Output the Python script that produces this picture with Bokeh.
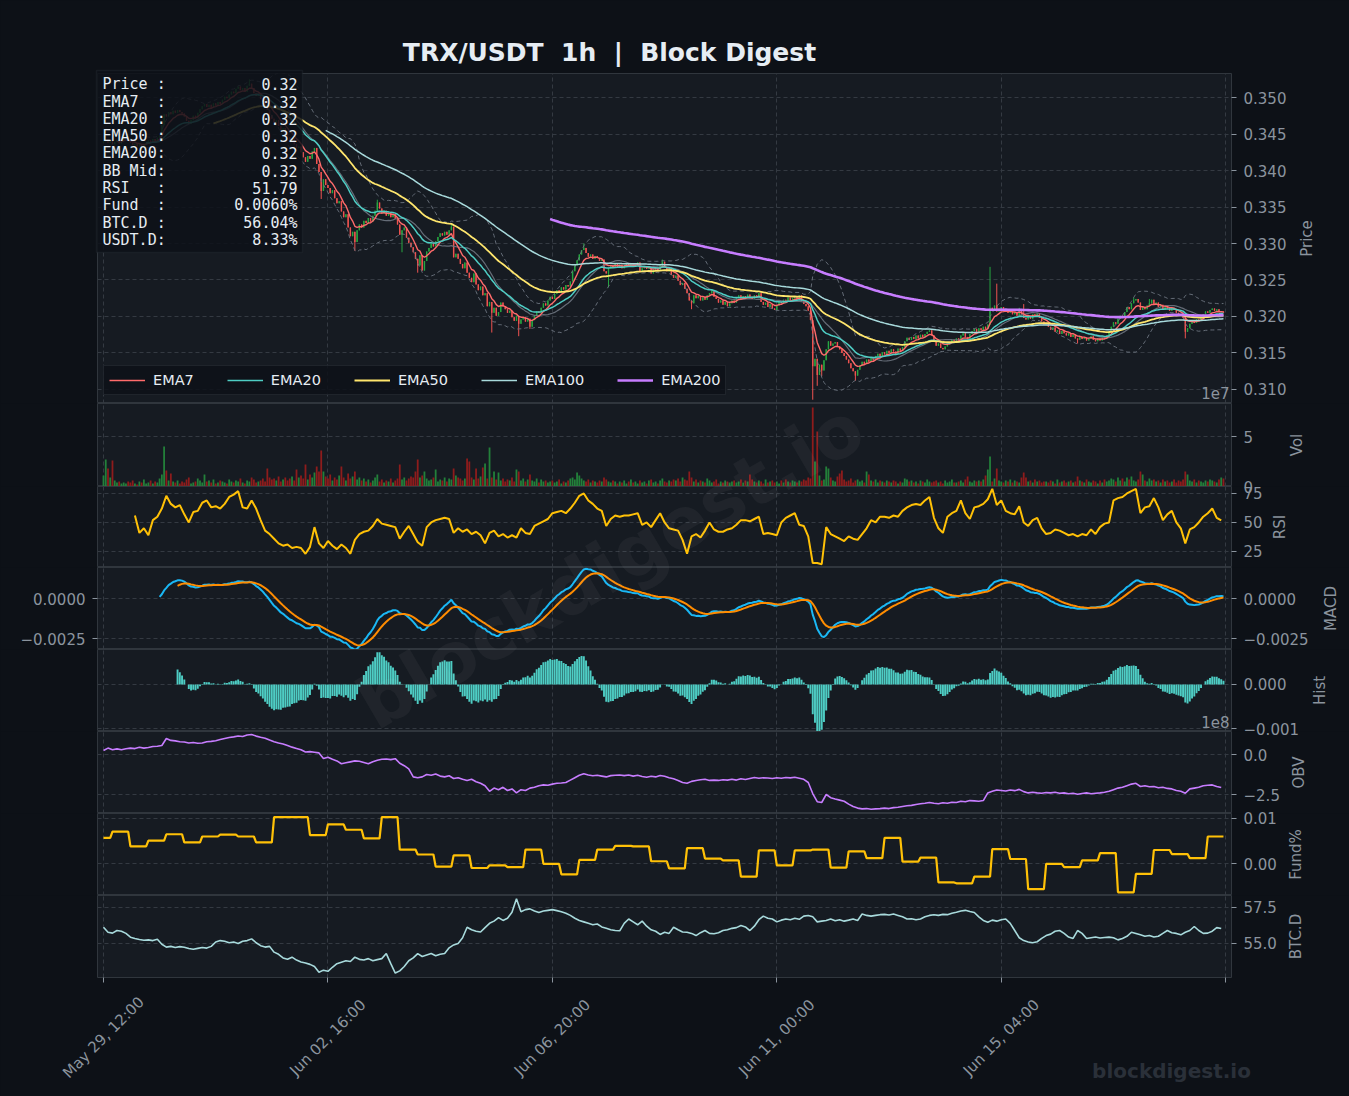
import numpy as np
import pandas as pd
from bokeh.plotting import figure
from bokeh.layouts import column
from bokeh.models import (Range1d, FixedTicker, Label, BoxAnnotation, Legend, LegendItem,
                          LinearAxis, CustomJSTickFormatter, Grid)
from bokeh.core.properties import value
from bokeh.embed import file_html
from bokeh.resources import INLINE

# ---------------------------------------------------------------- data
start_time = "2025-05-29 12:00"
xtick_hours = [0, 100, 200, 300, 400, 500]
xtick_labels = ["May 29, 12:00", "Jun 02, 16:00", "Jun 06, 20:00", "Jun 11, 00:00", "Jun 15, 04:00", ""]

open_first_e4 = 3438
# hourly closes, units of 0.0001 USDT
close_e4 = [
    3440, 3443, 3438, 3441, 3436, 3439, 3442, 3437, 3440, 3444,
    3446, 3441, 3438, 3435, 3437, 3433, 3436, 3432, 3435, 3438,
    3441, 3439, 3443, 3440, 3445, 3448, 3462, 3477, 3474, 3480,
    3477, 3482, 3479, 3483, 3480, 3478, 3474, 3468, 3464, 3469,
    3475, 3472, 3479, 3484, 3488, 3491, 3487, 3490, 3486, 3492,
    3489, 3494, 3491, 3497, 3501, 3499, 3504, 3508, 3506, 3512,
    3515, 3510, 3513, 3508, 3516, 3519, 3513, 3506, 3502, 3504,
    3498, 3494, 3487, 3483, 3476, 3471, 3466, 3469, 3461, 3455,
    3458, 3450, 3446, 3441, 3444, 3436, 3431, 3433, 3425, 3418,
    3412, 3420, 3416, 3426, 3431, 3409, 3398, 3372, 3388, 3380,
    3376, 3369, 3373, 3362, 3355, 3358, 3344, 3336, 3340, 3322,
    3310, 3316, 3302, 3318, 3326, 3322, 3331, 3328, 3335, 3330,
    3338, 3345, 3356, 3348, 3341, 3345, 3338, 3342, 3336, 3340,
    3334, 3326, 3312, 3318, 3322, 3308, 3301, 3295, 3288, 3279,
    3270, 3284, 3263, 3276, 3289, 3294, 3300, 3296, 3303, 3309,
    3314, 3311, 3316, 3312, 3318, 3323, 3281, 3286, 3279, 3272,
    3266, 3274, 3260, 3253, 3247, 3259, 3244, 3236, 3241, 3229,
    3232, 3214, 3220, 3205, 3212, 3201, 3206, 3219, 3214, 3210,
    3205, 3208, 3199, 3194, 3201, 3190, 3196, 3199, 3193, 3197,
    3186, 3195, 3201, 3207, 3205, 3212, 3218, 3215, 3222, 3227,
    3224, 3231, 3236, 3233, 3240, 3237, 3243, 3241, 3248, 3262,
    3270, 3277, 3285, 3291, 3294, 3287, 3282, 3285, 3279, 3283,
    3280, 3276, 3278, 3262, 3259, 3266, 3270, 3267, 3272, 3268,
    3271, 3266, 3270, 3273, 3269, 3272, 3268, 3271, 3274, 3262,
    3266, 3269, 3265, 3268, 3259, 3264, 3267, 3263, 3270, 3275,
    3268, 3262, 3265, 3257, 3253, 3256, 3249, 3243, 3246, 3238,
    3232, 3222, 3218, 3229, 3225, 3228, 3222, 3226, 3223, 3229,
    3232, 3236, 3227, 3224, 3219, 3222, 3216, 3220, 3214, 3218,
    3222, 3219, 3226, 3229, 3224, 3228, 3225, 3230, 3227, 3224,
    3229, 3226, 3232, 3220, 3216, 3219, 3213, 3217, 3211, 3209,
    3215, 3220, 3218, 3223, 3221, 3226, 3222, 3225, 3228, 3224,
    3229, 3221, 3217, 3214, 3208, 3195, 3132, 3142, 3120, 3134,
    3126, 3140, 3155, 3166, 3160, 3163, 3165, 3159, 3155, 3150,
    3146, 3141, 3136, 3129, 3125, 3119, 3127, 3133, 3138, 3135,
    3141, 3138, 3144, 3140, 3146, 3149, 3145, 3151, 3148, 3153,
    3150, 3155, 3152, 3149, 3156, 3153, 3158, 3166, 3171, 3168,
    3172, 3169, 3174, 3170, 3175, 3172, 3176, 3179, 3181, 3174,
    3166, 3160, 3163, 3157, 3155, 3159, 3162, 3165, 3168, 3166,
    3170, 3167, 3174, 3177, 3172, 3168, 3176, 3180, 3183, 3179,
    3184, 3181, 3186, 3183, 3189, 3212, 3208, 3215, 3207, 3211,
    3213, 3208, 3210, 3205, 3209, 3203, 3206, 3201, 3209, 3203,
    3198, 3196, 3201, 3197, 3203, 3200, 3204, 3198, 3193, 3189,
    3191, 3186, 3182, 3185, 3179, 3181, 3176, 3180, 3177, 3174,
    3177, 3172, 3175, 3170, 3168, 3172, 3169, 3171, 3167, 3170,
    3173, 3168, 3166, 3170, 3167, 3171, 3169, 3174, 3180, 3186,
    3192, 3190, 3197, 3201, 3199, 3206, 3213, 3210, 3218, 3222,
    3224, 3219, 3209, 3213, 3210, 3215, 3218, 3223, 3216, 3219,
    3213, 3216, 3209, 3214, 3211, 3208, 3212, 3209, 3205, 3203,
    3201, 3198, 3179, 3184, 3190, 3193, 3191, 3196, 3194, 3199,
    3203, 3207, 3205, 3209, 3211, 3208, 3210, 3206, 3207, 3205,
]
# notable wick extremes (hour -> price e4)
wick_high_e4 = {65: 3525, 122: 3360, 155: 3327, 214: 3300, 249: 3278, 395: 3268,
                398: 3245, 408: 3212, 410: 3217, 459: 3226, 466: 3224}
wick_low_e4 = {97: 3361, 112: 3290, 133: 3288, 140: 3260, 173: 3178, 185: 3173,
               190: 3183, 225: 3240, 262: 3210, 316: 3086, 318: 3105, 320: 3118,
               335: 3112, 434: 3163, 482: 3170}

# hourly volume, millions
volume_m = [
    11, 27, 18, 9, 26, 6, 4, 5, 3, 4,
    3, 5, 4, 6, 3, 2, 5, 4, 7, 3,
    4, 6, 3, 5, 4, 8, 12, 40, 16, 6,
    13, 5, 4, 6, 3, 5, 4, 7, 9, 3,
    4, 5, 8, 6, 4, 12, 5, 6, 4, 7,
    3, 4, 6, 5, 4, 3, 7, 5, 4, 6,
    5, 8, 4, 3, 6, 5, 9, 7, 4, 5,
    6, 8, 5, 18, 9, 7, 8, 6, 10, 5,
    7, 9, 6, 8, 10, 6, 17, 9, 11, 8,
    22, 7, 12, 9, 14, 20, 15, 36, 15, 10,
    8, 12, 6, 9, 7, 11, 20, 9, 6, 13,
    8, 10, 15, 7, 9, 6, 8, 5, 7, 4,
    6, 9, 12, 5, 7, 4, 6, 5, 8, 4,
    6, 8, 22, 7, 9, 6, 8, 10, 9, 15,
    27, 9, 11, 15, 8, 6, 7, 9, 17, 5,
    7, 6, 9, 5, 8, 7, 18, 11, 9, 8,
    6, 8, 28, 25, 9, 7, 18, 8, 10, 19,
    23, 8, 39, 9, 15, 7, 14, 6, 8, 5,
    7, 6, 9, 5, 17, 15, 6, 8, 5, 7,
    12, 6, 5, 8, 4, 7, 5, 6, 4, 5,
    6, 4, 5, 7, 3, 5, 4, 6, 8, 9,
    7, 14, 11, 8, 6, 5, 7, 4, 6, 5,
    4, 6, 5, 9, 7, 5, 4, 6, 5, 3,
    5, 4, 6, 3, 5, 7, 4, 5, 3, 6,
    4, 5, 3, 6, 7, 4, 5, 3, 6, 8,
    5, 4, 6, 5, 7, 6, 8, 5, 9, 7,
    6, 15, 9, 5, 7, 4, 6, 5, 4, 8,
    6, 4, 5, 7, 3, 5, 4, 6, 5, 4,
    5, 6, 4, 5, 7, 4, 6, 5, 12, 7,
    5, 4, 6, 5, 3, 7, 4, 5, 6, 4,
    5, 3, 6, 4, 7, 5, 4, 6, 5, 4,
    6, 5, 7, 6, 9, 8, 79, 25, 55, 11,
    6, 7, 20, 18, 9, 6, 5, 10, 13, 16,
    7, 5, 6, 8, 4, 6, 7, 5, 6, 4,
    15, 12, 6, 5, 7, 4, 6, 5, 4, 6,
    5, 4, 6, 5, 3, 5, 4, 8, 7, 5,
    6, 4, 5, 3, 6, 5, 4, 7, 5, 4,
    5, 6, 4, 5, 3, 6, 4, 5, 7, 4,
    4, 5, 6, 4, 7, 10, 5, 4, 6, 5,
    6, 5, 7, 11, 17, 30, 5, 8, 18, 6,
    5, 4, 6, 5, 7, 4, 6, 5, 4, 9,
    14, 9, 5, 6, 4, 7, 5, 6, 4, 5,
    5, 4, 6, 5, 3, 7, 4, 5, 6, 4,
    5, 6, 4, 5, 10, 6, 5, 4, 7, 5,
    4, 6, 5, 3, 6, 4, 7, 5, 6, 8,
    7, 5, 9, 6, 8, 5, 9, 7, 10, 6,
    5, 7, 15, 12, 6, 5, 8, 6, 7, 5,
    6, 4, 7, 5, 6, 4, 5, 7, 4, 6,
    5, 7, 15, 12, 6, 5, 7, 4, 6, 5,
    4, 6, 5, 7, 6, 5, 4, 7, 9, 8,
]

# RSI every 2 hours from hour 14
rsi_vals = [
    56, 41, 45, 39, 52, 55, 62, 73, 66, 63,
    65, 57, 50, 59, 60, 67, 69, 63, 64, 62,
    66, 72, 74, 77, 63, 62, 69, 62, 52, 43,
    40, 36, 32, 30, 31, 28, 29, 28, 23, 29,
    46, 32, 28, 34, 30, 27, 31, 28, 23, 35,
    40, 42, 43, 47, 53, 49, 48, 47, 46, 36,
    42, 47, 40, 33, 30, 46, 50, 52, 53, 54,
    53, 41, 45, 42, 44, 40, 42, 39, 32, 41,
    43, 38, 40, 37, 39, 37, 45, 41, 40, 47,
    49, 51, 53, 58, 59, 60, 58, 62, 67, 73,
    75, 69, 66, 62, 60, 47, 53, 56, 55, 56,
    56, 57, 58, 48, 50, 46, 52, 58, 50, 45,
    44, 43, 35, 23, 38, 40, 37, 43, 50, 44,
    42, 42, 44, 45, 48, 52, 52, 51, 53, 55,
    40, 41, 40, 39, 50, 54, 56, 58, 48, 47,
    38, 15, 15, 14, 46, 40, 38, 36, 34, 38,
    36, 35, 40, 45, 52, 50, 55, 55, 54, 56,
    55, 60, 63, 65, 66, 65, 69, 72, 54, 45,
    41, 55, 58, 60, 69, 58, 53, 63, 64, 66,
    70, 79, 65, 69, 60, 58, 57, 64, 50, 47,
    52, 54, 45, 40, 41, 44, 43, 41, 39, 40,
    38, 40, 39, 44, 40, 46, 49, 50, 69, 71,
    72, 75, 77, 79, 58, 63, 64, 71, 63, 52,
    57, 60, 50, 45, 32, 44, 46, 50, 55, 58,
    62, 54, 51.79,
]

# OBV every 2 hours, units of 1e8
obv_e8 = [
    0.25, 0.40, 0.30, 0.35, 0.30, 0.36, 0.40, 0.37, 0.45, 0.40,
    0.44, 0.50, 0.52, 0.56, 1.00, 0.88, 0.85, 0.80, 0.78, 0.72,
    0.75, 0.70, 0.72, 0.80, 0.82, 0.86, 0.94, 1.00, 1.06, 1.10,
    1.16, 1.12, 1.22, 1.25, 1.15, 1.08, 1.02, 0.90, 0.80, 0.72,
    0.66, 0.56, 0.46, 0.38, 0.30, 0.16, 0.18, 0.14, 0.10, -0.25,
    -0.17, -0.30, -0.40, -0.58, -0.52, -0.46, -0.40, -0.42, -0.50, -0.58,
    -0.45, -0.36, -0.30, -0.28, -0.32, -0.26, -0.55, -0.70, -0.90, -1.40,
    -1.45, -1.40, -1.25, -1.30, -1.22, -1.35, -1.40, -1.33, -1.50, -1.45,
    -1.55, -1.62, -1.55, -1.70, -1.80, -1.95, -2.30, -2.10, -2.20, -2.05,
    -2.25, -2.15, -2.40, -2.20, -2.25, -2.10, -2.05, -1.95, -1.90, -1.92,
    -1.85, -1.80, -1.78, -1.75, -1.60, -1.45, -1.30, -1.20, -1.28, -1.33,
    -1.30, -1.35, -1.40, -1.32, -1.30, -1.28, -1.32, -1.28, -1.35, -1.30,
    -1.38, -1.42, -1.36, -1.40, -1.31, -1.36, -1.45, -1.52, -1.62, -1.75,
    -1.80, -1.68, -1.62, -1.58, -1.55, -1.62, -1.60, -1.62, -1.58, -1.60,
    -1.55, -1.60, -1.52, -1.56, -1.50, -1.44, -1.48, -1.45, -1.47, -1.50,
    -1.45, -1.48, -1.44, -1.46, -1.42, -1.48, -1.55, -1.75, -2.44, -2.95,
    -3.00, -2.50, -2.70, -2.78, -2.85, -2.92, -3.10, -3.25, -3.35, -3.40,
    -3.38, -3.42, -3.40, -3.38, -3.35, -3.38, -3.32, -3.30, -3.25, -3.20,
    -3.18, -3.12, -3.08, -3.05, -3.00, -3.05, -3.08, -3.02, -3.05, -2.98,
    -3.00, -2.92, -2.95, -2.88, -2.90, -2.92, -2.88, -2.40, -2.30, -2.22,
    -2.25, -2.28, -2.22, -2.26, -2.18, -2.32, -2.40, -2.36, -2.40, -2.42,
    -2.38, -2.40, -2.36, -2.42, -2.40, -2.45, -2.42, -2.48, -2.44, -2.40,
    -2.45, -2.42, -2.40, -2.36, -2.30, -2.20, -2.10, -2.05, -1.95, -1.85,
    -1.80, -2.00, -1.95, -2.02, -2.00, -2.08, -2.05, -2.12, -2.15, -2.25,
    -2.30, -2.42, -2.15, -2.10, -2.05, -1.95, -1.92, -1.90, -2.00, -2.06,
]

# BTC dominance every 2 hours, %
btcd_vals = [
    56.13, 55.78, 55.72, 55.90, 55.85, 55.70, 55.44, 55.35, 55.28, 55.22,
    55.25, 55.20, 55.30, 54.95, 54.75, 54.80, 54.72, 54.78, 54.74, 54.65,
    54.60, 54.66, 54.72, 54.68, 54.80, 55.10, 55.20, 55.15, 55.05, 55.10,
    55.00, 55.15, 55.20, 55.32, 55.05, 54.85, 54.75, 54.80, 54.40, 54.25,
    54.00, 53.90, 54.05, 53.85, 53.72, 53.65, 53.55, 53.40, 53.00, 53.15,
    53.07, 53.35, 53.60, 53.70, 53.80, 53.75, 54.05, 53.90, 53.85, 53.95,
    53.80, 53.88, 53.95, 54.30, 53.60, 52.95, 53.10, 53.40, 53.80, 54.00,
    54.30, 54.10, 54.20, 54.30, 54.15, 54.25, 54.30, 54.70, 54.90, 55.00,
    55.40, 56.13, 55.95, 55.85, 55.80, 56.10, 56.40, 56.55, 56.80, 56.60,
    56.75, 57.17, 58.10, 57.20, 57.35, 57.40, 57.25, 57.15, 57.25, 57.30,
    57.35, 57.28, 57.20, 57.10, 56.95, 56.75, 56.60, 56.50, 56.40, 56.30,
    56.35, 56.15, 56.05, 55.95, 55.90, 55.88, 56.40, 56.70, 56.50, 56.30,
    56.55, 56.20, 55.95, 55.85, 55.63, 55.78, 55.70, 56.13, 55.95, 55.80,
    55.78, 55.70, 55.55, 55.75, 55.90, 55.70, 55.68, 55.75, 55.90, 55.95,
    56.05, 56.10, 56.25, 56.15, 55.90, 56.20, 56.65, 56.90, 56.75, 56.70,
    56.50, 56.62, 56.70, 56.65, 56.75, 56.68, 56.90, 56.94, 56.85, 56.50,
    56.55, 56.60, 56.70, 56.58, 56.65, 56.55, 56.62, 56.70, 56.60, 57.05,
    56.95, 56.90, 56.95, 57.00, 57.02, 56.98, 57.05, 56.95, 56.85, 56.70,
    56.72, 56.65, 56.70, 56.85, 56.95, 57.00, 56.95, 57.02, 57.00, 57.10,
    57.17, 57.25, 57.30, 57.22, 57.15, 56.85, 56.60, 56.48, 56.62, 56.55,
    56.65, 56.70, 56.40, 55.90, 55.40, 55.20, 55.10, 55.05, 55.12, 55.35,
    55.55, 55.65, 55.85, 55.90, 55.70, 55.45, 55.35, 55.90, 55.70, 55.35,
    55.40, 55.45, 55.38, 55.42, 55.44, 55.40, 55.25, 55.35, 55.50, 55.78,
    55.70, 55.60, 55.50, 55.55, 55.45, 55.50, 55.70, 55.90, 55.75, 55.70,
    55.60, 55.78, 55.90, 56.18, 55.90, 55.70, 55.72, 55.85, 56.10, 56.04,
]

# funding rate (%) per 8h period; first period covers hours 0-3, then every 8h from hour 4
funding_pct = [
    0.0057, 0.0071, 0.0038, 0.0051, 0.0065, 0.0047, 0.0060, 0.0064, 0.0060, 0.0047,
    0.0103, 0.0103, 0.0063, 0.0087, 0.0075, 0.0056, 0.0103, 0.0031, 0.0020, -0.0007,
    0.0018, -0.0010, -0.0004, -0.0008, 0.0031, -0.0001, -0.0024, 0.0008, 0.0031, 0.0039,
    0.0038, 0.0005, -0.0011, 0.0034, 0.0011, 0.0007, -0.0029, 0.0029, -0.0004, 0.0029,
    0.0031, -0.0009, 0.0027, 0.0012, 0.0057, 0.0004, 0.0013, -0.0042, -0.0044, -0.0029,
    0.0032, 0.0010, -0.0057, -0.0001, -0.0008, 0.0007, 0.0023, -0.0064, -0.0023, 0.0030,
    0.0021, 0.0012, 0.0060,
]
usdt_dominance = 8.33

assert len(close_e4) == 500 and len(volume_m) == 500
assert len(rsi_vals) == 243 and len(obv_e8) == 250 and len(btcd_vals) == 250
assert len(funding_pct) == 63

# ---------------------------------------------------------------- derived
HOUR = 3_600_000.0
t0_ms = pd.Timestamp(start_time).value / 1e6
hours = np.arange(500)
x = t0_ms + hours * HOUR
x2 = t0_ms + np.arange(0, 500, 2) * HOUR
x_rsi = t0_ms + np.arange(14, 499, 2) * HOUR

close = pd.Series(np.array(close_e4, dtype=float) / 1e4)
open_ = np.r_[open_first_e4 / 1e4, close.values[:-1]]
high = np.maximum(open_, close.values)
low = np.minimum(open_, close.values)
for h, v in wick_high_e4.items():
    high[h] = max(high[h], v / 1e4)
for h, v in wick_low_e4.items():
    low[h] = min(low[h], v / 1e4)
up = close.values >= open_

ema = {n: close.ewm(span=n, adjust=False, min_periods=n).mean().values for n in (7, 20, 50, 100, 200)}
bb_mid = close.rolling(20).mean()
bb_std = close.rolling(20).std()
bb_up = (bb_mid + 2 * bb_std).values
bb_lo = (bb_mid - 2 * bb_std).values
ema12 = close.ewm(span=12, adjust=False, min_periods=12).mean()
ema26 = close.ewm(span=26, adjust=False, min_periods=26).mean()
macd = ema12 - ema26
signal = macd.ewm(span=9, adjust=False, min_periods=9).mean()
hist = (macd - signal).values
vol = np.array(volume_m, dtype=float) / 10.0          # units of 1e7
fund_hourly = np.array([funding_pct[0] if h < 4 else funding_pct[1 + (h - 4) // 8] for h in hours])

# ---------------------------------------------------------------- style / geometry
BG = "#0d1117"
PANEL = "#161b22"
SPINE = "#30363d"
GRID = "#343a42"
TXT = "#8b949e"
WHITE = "#e6edf3"
FONT = "DejaVu Sans"
MONO = "DejaVu Sans Mono"
PAGE_W, PAGE_H = 1349, 1096
FL, FW = 97, 1134                     # frame left / width
FR_BORDER = PAGE_W - FL - FW

# panel name: (frame top px, frame bottom px, y range lo, hi, ticks, decimals, side title, title x px)
bands = {
    "price": (73, 403, 0.30808, 0.35329, [0.310, 0.315, 0.320, 0.325, 0.330, 0.335, 0.340, 0.345, 0.350], 3, "Price", 1306),
    "vol":   (403, 486, 0.0, 8.3, [0, 5], 0, "Vol", 1296),
    "rsi":   (486, 567, 11.2, 81.0, [25, 50, 75], 0, "RSI", 1279),
    "macd":  (567, 649, -0.0031875, 0.0019375, [-0.0025, 0.0], 4, "MACD", 1330),
    "hist":  (649, 731, -0.001068, 0.000795, [-0.001, 0.0], 3, "Hist", 1319),
    "obv":   (731, 813, -3.6875, 1.4375, [-2.5, 0.0], 1, "OBV", 1298),
    "fund":  (813, 895, -0.00711, 0.01111, [0.0, 0.01], 2, "Fund%", 1295),
    "btcd":  (895, 977, 52.64, 58.33, [55.0, 57.5], 1, "BTC.D", 1295),
}

xt_ms = [t0_ms + h * HOUR for h in xtick_hours]
x_start, x_end = t0_ms - 2.673 * HOUR, t0_ms + 502.58 * HOUR
xr = Range1d(x_start, x_end)
EMPTY = CustomJSTickFormatter(code="return '';")


def style_axis(ax, ticks):
    ax.ticker = FixedTicker(ticks=ticks)
    ax.formatter = EMPTY
    ax.major_tick_line_color = TXT
    ax.major_tick_out = 5
    ax.major_tick_in = 0
    ax.minor_tick_line_color = None
    ax.axis_line_color = None


def panel(name, top=0, bottom=0, xaxis=False):
    T, B, lo, hi, ticks, dec, _, _ = bands[name]
    p = figure(frame_width=FW, frame_height=B - T, x_range=xr, y_range=Range1d(lo, hi),
               x_axis_type="datetime", x_axis_location="below" if xaxis else None,
               y_axis_location="right", toolbar_location=None, output_backend="svg",
               title=None, min_border_left=FL, min_border_right=FR_BORDER,
               min_border_top=top, min_border_bottom=bottom,
               background_fill_color=PANEL, border_fill_color=BG,
               outline_line_color=SPINE, outline_line_width=1)
    p.center = [c for c in p.center if not isinstance(c, Grid)]
    p.add_layout(Grid(dimension=0, ticker=FixedTicker(ticks=xt_ms), grid_line_color=GRID,
                      grid_line_dash="4 3", grid_line_width=1))
    p.add_layout(Grid(dimension=1, ticker=FixedTicker(ticks=ticks), grid_line_color=GRID,
                      grid_line_dash="4 3", grid_line_width=1))
    style_axis(p.yaxis[0], ticks)
    return p


# ---------------------------------------------------------------- price panel
pp = panel("price", top=73)
c_up, c_dn = "#26a641", "#ef5350"
ccol = np.where(up, c_up, c_dn)
pp.segment(x0=x, y0=low, x1=x, y1=high, line_color=ccol, line_width=1)
pp.vbar(x=x, width=0.62 * HOUR, top=np.maximum(open_, close.values), bottom=np.minimum(open_, close.values),
        fill_color=ccol, line_color=None)
pp.line(x, bb_up, line_color="#6e7681", line_width=1, line_dash="4 3", line_alpha=0.9)
pp.line(x, bb_lo, line_color="#6e7681", line_width=1, line_dash="4 3", line_alpha=0.9)
pp.line(x, bb_mid.values, line_color="#6e7681", line_width=1.2, line_alpha=0.9)
ema_style = [(7, "#ff6b6b", 1.4), (20, "#4ecdc4", 1.5), (50, "#ffe66d", 1.8), (100, "#a8dadc", 1.5), (200, "#c77dff", 2.6)]
items = []
for n, col, w in ema_style:
    r = pp.line(x, ema[n], line_color=col, line_width=w)
    items.append(LegendItem(label=f"EMA{n}", renderers=[r]))
leg = Legend(items=items, orientation="horizontal", location=(6, 8),
             background_fill_color=BG, background_fill_alpha=0.85, border_line_color=SPINE,
             label_text_color=WHITE, label_text_font=FONT, label_text_font_size="14.5px",
             glyph_width=36, glyph_height=16, label_height=18, label_standoff=8,
             spacing=33, padding=5, margin=0)
pp.add_layout(leg)

# ---------------------------------------------------------------- volume
pv = panel("vol")
pv.vbar(x=x, width=0.8 * HOUR, top=vol, bottom=0, fill_color=np.where(up, "#23803a", "#8e1c1c"), line_color=None)

# ---------------------------------------------------------------- RSI
pr = panel("rsi")
pr.line(x_rsi, rsi_vals, line_color="#ffc107", line_width=2)

# ---------------------------------------------------------------- MACD
pm = panel("macd")
lax = LinearAxis()
style_axis(lax, bands["macd"][4])
pm.add_layout(lax, "left")
pm.line(x, macd.values, line_color="#1ab8f5", line_width=2)
pm.line(x, signal.values, line_color="#ff8c00", line_width=2)

# ---------------------------------------------------------------- Hist
ph = panel("hist")
ph.vbar(x=x, width=0.86 * HOUR, top=hist, bottom=0, fill_color="#4ecdc4", line_color=None)

# ---------------------------------------------------------------- OBV
po = panel("obv")
po.line(x2, obv_e8, line_color="#c77dff", line_width=1.6)

# ---------------------------------------------------------------- Funding
pf = panel("fund")
pf.line(x, fund_hourly, line_color="#ffc107", line_width=2.2)

# ---------------------------------------------------------------- BTC.D
pb = panel("btcd", bottom=PAGE_H - 977, xaxis=True)
pb.line(x2, btcd_vals, line_color="#a8dadc", line_width=1.6)
style_axis(pb.xaxis[0], xt_ms)

# ---------------------------------------------------------------- text overlay (separate root, whole page)
mpp = (x_end - x_start) / FW
ov = figure(frame_width=PAGE_W, frame_height=PAGE_H,
            x_range=Range1d(x_start - FL * mpp, x_end + FR_BORDER * mpp), y_range=Range1d(0, PAGE_H),
            x_axis_location=None, y_axis_location=None, toolbar_location=None, output_backend="svg",
            title=None, min_border_left=0, min_border_right=0, min_border_top=0,
            min_border_bottom=0, background_fill_alpha=0, border_fill_alpha=0, outline_line_color=None,
            styles={"position": "absolute", "top": "0px", "left": "0px", "z-index": "5",
                    "pointer-events": "none"})
ov.center = [c for c in ov.center if not isinstance(c, Grid)]


def tick_text(t, dec):
    s = f"{abs(t):.{dec}f}"
    return ("\u2212" + s) if t < 0 else s


extra = {}
for name, (T, B, lo, hi, ticks, dec, title, tx) in bands.items():
    u = (hi - lo) / (B - T)
    extra[name] = Range1d(lo - (PAGE_H - B) * u, hi + T * u)
ov.extra_y_ranges = extra

for name, (T, B, lo, hi, ticks, dec, title, tx) in bands.items():
    labs = [tick_text(t, dec) for t in ticks]
    ov.text(x=[x_end] * len(ticks), y=ticks, text=labs, y_range_name=name, x_offset=12,
            text_align="left", text_baseline="middle", text_color=TXT,
            text_font=value(FONT), text_font_size=value("15px"))
    if name == "macd":
        ov.text(x=[x_start] * len(ticks), y=ticks, text=labs, y_range_name=name, x_offset=-12,
                text_align="right", text_baseline="middle", text_color=TXT,
                text_font=value(FONT), text_font_size=value("15px"))
    ov.add_layout(Label(x=tx, y=PAGE_H - (T + B) / 2, x_units="screen", y_units="screen", text=title,
                        angle=np.pi / 2, text_align="center", text_baseline="middle",
                        text_color=TXT, text_font=FONT, text_font_size="15px"))

# x tick labels
for tm, lab in zip(xt_ms, xtick_labels):
    if lab:
        ov.add_layout(Label(x=tm, y=PAGE_H - 1037, x_units="data", y_units="screen", text=lab,
                            angle=np.pi / 4, text_align="center", text_baseline="middle",
                            text_color=TXT, text_font=FONT, text_font_size="15px"))

# offsets of the scientific axes
ov.add_layout(Label(x=1229, y=PAGE_H - 392, x_units="screen", y_units="screen", text="1e7",
                    text_align="right", text_baseline="middle", text_color=TXT, text_font=FONT,
                    text_font_size="15px"))
ov.add_layout(Label(x=1229, y=PAGE_H - 721, x_units="screen", y_units="screen", text="1e8",
                    text_align="right", text_baseline="middle", text_color=TXT, text_font=FONT,
                    text_font_size="15px"))

# title
ov.add_layout(Label(x=609, y=PAGE_H - 52, x_units="screen", y_units="screen",
                    text="TRX/USDT\u00a0 1h\u00a0 |\u00a0 Block Digest", text_align="center",
                    text_baseline="middle", text_color=WHITE, text_font=FONT, text_font_size="25px",
                    text_font_style="bold"))

# watermarks
ov.add_layout(Label(x=610, y=PAGE_H - 565, x_units="screen", y_units="screen", text="blockdigest.io",
                    angle=0.53, text_align="center", text_baseline="middle", text_color="#ffffff",
                    text_alpha=0.045, text_font=FONT, text_font_size="72px", text_font_style="bold"))
ov.add_layout(Label(x=1171, y=PAGE_H - 1070, x_units="screen", y_units="screen", text="blockdigest.io",
                    text_align="center", text_baseline="middle", text_color="#2a3039", text_font=FONT,
                    text_font_size="20px", text_font_style="bold"))

# info box
ov.add_layout(BoxAnnotation(left=96, right=302, top=PAGE_H - 70, bottom=PAGE_H - 252,
                            left_units="screen", right_units="screen", top_units="screen",
                            bottom_units="screen", fill_color=BG, fill_alpha=0.85,
                            line_color=SPINE, line_width=1.5))
info = [("Price", f"{close.values[-1]:.2f}"), ("EMA7", f"{ema[7][-1]:.2f}"), ("EMA20", f"{ema[20][-1]:.2f}"),
        ("EMA50", f"{ema[50][-1]:.2f}"), ("EMA200", f"{ema[200][-1]:.2f}"), ("BB Mid", f"{bb_mid.values[-1]:.2f}"),
        ("RSI", f"{rsi_vals[-1]:.2f}"), ("Fund", f"{fund_hourly[-1]:.4f}%"), ("BTC.D", f"{btcd_vals[-1]:.2f}%"),
        ("USDT.D", f"{usdt_dominance:.2f}%")]
for i, (name, val) in enumerate(info):
    yy = PAGE_H - (83.7 + 17.3 * i)
    ov.add_layout(Label(x=102, y=yy, x_units="screen", y_units="screen", text=name.ljust(6, "\u00a0") + ":",
                        text_align="left", text_baseline="middle", text_color=WHITE, text_font=MONO,
                        text_font_size="15px"))
    ov.add_layout(Label(x=297, y=yy, x_units="screen", y_units="screen", text=val,
                        text_align="right", text_baseline="middle", text_color=WHITE, text_font=MONO,
                        text_font_size="15px"))

layout = column(pp, pv, pr, pm, ph, po, pf, pb, spacing=0, styles={"background-color": BG})
html = file_html([layout, ov], INLINE, title="TRX/USDT 1h | Block Digest")
html = html.replace("<body>", '<body style="margin:0;background:#0d1117;overflow:hidden;">')
open("out.html", "w").write(html)
